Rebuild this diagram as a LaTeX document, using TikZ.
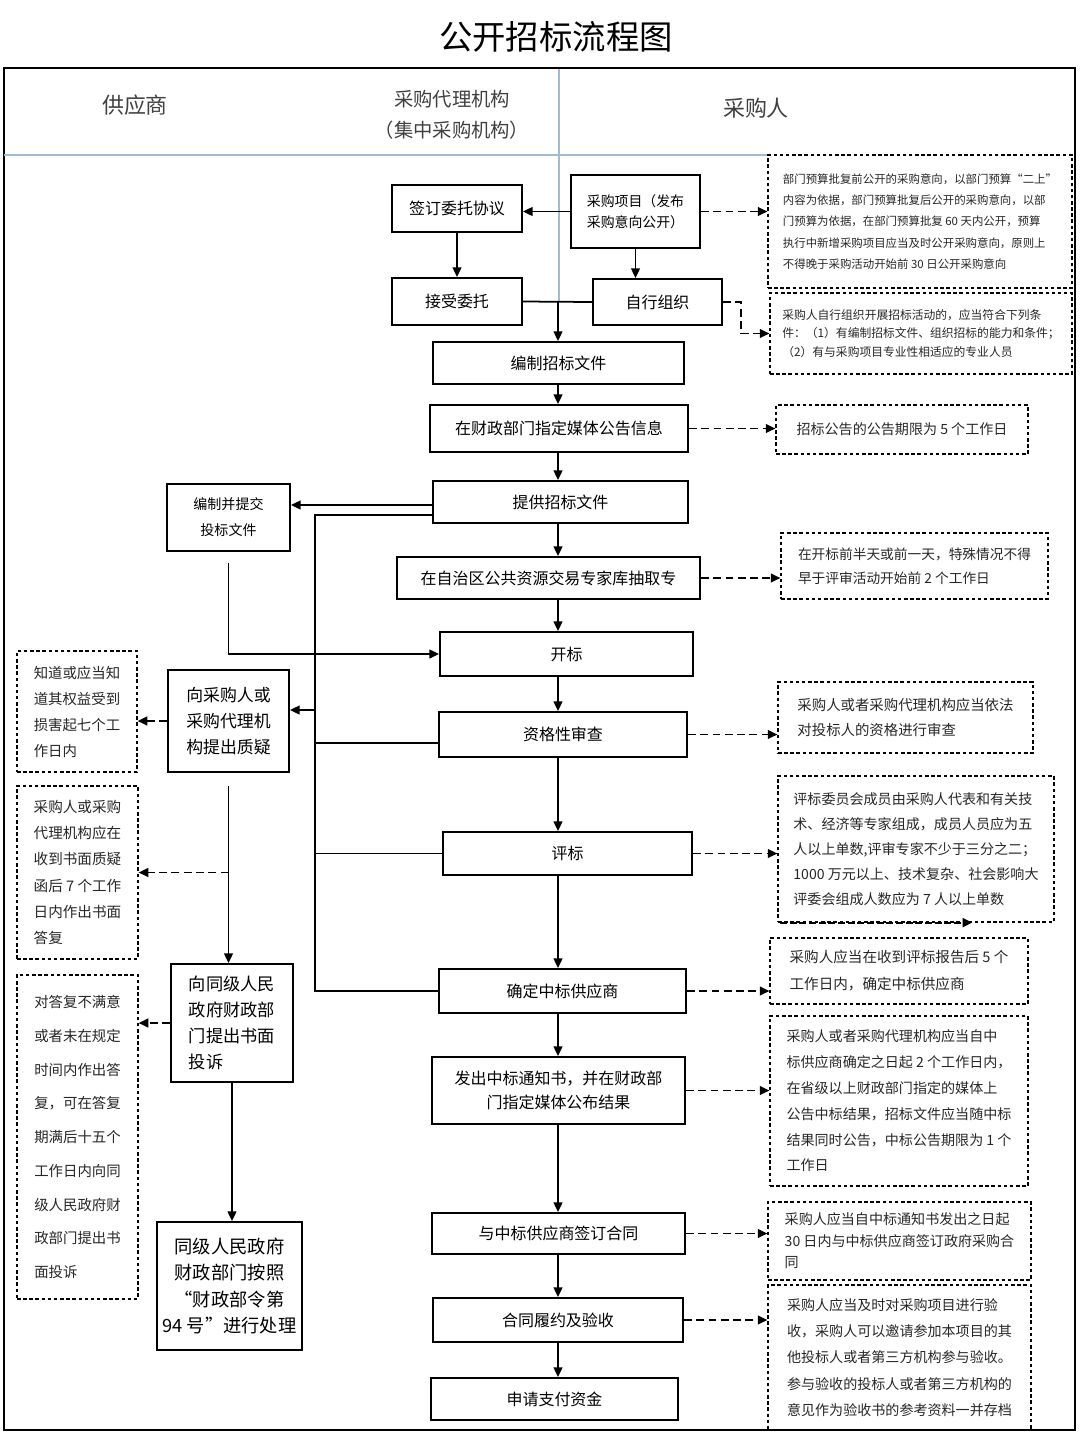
\documentclass[tikz,border=0pt]{standalone}
\usepackage{fontspec}
\setmainfont{Noto Sans CJK SC}
\usetikzlibrary{positioning,calc,arrows.meta}
\definecolor{lanecol}{RGB}{160,188,212}
\tikzset{
	box/.style={draw, line width=1.1pt, font=\fontsize{9.1}{14}\selectfont},
	note/.style={draw, line width=0.7pt, dash pattern=on 2pt off 1.5pt, align=left, text=black!85},
	arr/.style={line width=1pt, -{Triangle[length=5.5pt,width=5pt]}},
	darr/.style={arr, dash pattern=on 4.5pt off 2.5pt},
	hd/.style={text=black!75, font=\fontsize{12.5}{17.5}\selectfont},
	lane/.style={draw=lanecol, line width=0.8pt},
}

\begin{document}
\begin{tikzpicture}[x=0.02cm, y=-0.02cm]
	\useasboundingbox (0,0) rectangle (1080,1444);
	\begin{scope}
		\tikzstyle{every node}=[align=center, inner sep=1pt]
		% title, frame and lanes
		\node[font=\fontsize{19}{22}\selectfont] (title) at (556,37) {公开招标流程图};
		\draw[line width=1.6pt] (4,68) rectangle (1075,1430);
		\draw[lane] (4,155) -- (768,155);
		\draw[lane] (559,69) -- (559,301);
		\node[hd] (hsup) at (135,105) {供应商};
		\node[hd, font=\fontsize{11}{17.5}\selectfont] (hagent) at (452,115) {采购代理机构\\（集中采购机构）};
		\node[hd] (hbuyer) at (756,108) {采购人};

		% main column
		\node[box, minimum width=2.6cm, minimum height=0.94cm] (sign) at (457,208.5) {签订委托协议};
		\node[box, minimum width=2.58cm, minimum height=1.46cm, align=left, font=\fontsize{7.9}{12}\selectfont] (proj) at (635.5,211.5) {采购项目（发布\\采购意向公开）};
		\node[box, minimum width=2.6cm, minimum height=0.94cm] (accept) at (457,301.5) {接受委托};
		\node[box, minimum width=2.58cm, minimum height=0.92cm] (self) at (657.5,302) {自行组织};
		\node[box, minimum width=5.02cm, minimum height=0.84cm] (prep) at (558.5,363) {编制招标文件};
		\node[box, minimum width=5.16cm, minimum height=0.94cm] (pub) at (559,428.5) {在财政部门指定媒体公告信息};
		\node[box, minimum width=5.1cm, minimum height=0.84cm] (provide) at (560.5,502) {提供招标文件};
		\node[box, minimum width=6.06cm, minimum height=0.84cm] (expert) at (548.5,578) {在自治区公共资源交易专家库抽取专};
		\node[box, minimum width=5.06cm, minimum height=0.88cm] (open) at (566.5,654) {开标};
		\node[box, minimum width=4.96cm, minimum height=0.9cm] (qual) at (563,734.5) {资格性审查};
		\node[box, minimum width=4.98cm, minimum height=0.86cm] (eval) at (567.5,853.5) {评标};
		\node[box, minimum width=4.94cm, minimum height=0.88cm] (award) at (562.5,991) {确定中标供应商};
		\node[box, minimum width=5.06cm, minimum height=1.34cm] (notice) at (558.5,1090.5) {发出中标通知书，并在财政部\\门指定媒体公布结果};
		\node[box, minimum width=5.06cm, minimum height=0.82cm] (contract) at (558.5,1233.5) {与中标供应商签订合同};
		\node[box, minimum width=5cm, minimum height=0.88cm] (check) at (558,1320) {合同履约及验收};
		\node[box, minimum width=4.94cm, minimum height=0.84cm] (pay) at (554.5,1399) {申请支付资金};

		% supplier column
		\node[box, minimum width=2.46cm, minimum height=1.34cm, font=\fontsize{8}{14.7}\selectfont] (bid) at (228.5,517.5) {编制并提交\\投标文件};
		\node[box, minimum width=2.42cm, minimum height=2.04cm, font=\fontsize{9.6}{14.9}\selectfont] (query) at (228.5,721) {向采购人或\\采购代理机\\构提出质疑};
		\node[box, minimum width=2.44cm, minimum height=2.36cm, align=left, font=\fontsize{9.8}{14.9}\selectfont] (complain) at (232,1023) {向同级人民\\政府财政部\\门提出书面\\投诉};
		\node[box, minimum width=2.9cm, minimum height=2.56cm, font=\fontsize{10.4}{14.9}\selectfont] (handle) at (229.5,1286) {同级人民政府\\财政部门按照\\“财政部令第\\94 号”进行处理};

		% left notes
		\node[note, minimum width=2.4cm, minimum height=2.42cm, font=\fontsize{8.2}{14.8}\selectfont] (L1) at (77,711.5) {知道或应当知\\道其权益受到\\损害起七个工\\作日内};
		\node[note, minimum width=2.42cm, minimum height=3.46cm, font=\fontsize{8.3}{14.9}\selectfont] (L2) at (77.5,872.5) {采购人或采购\\代理机构应在\\收到书面质疑\\函后 7 个工作\\日内作出书面\\答复};
		\node[note, minimum width=2.42cm, minimum height=6.48cm, font=\fontsize{8.2}{19.2}\selectfont] (L3) at (77.5,1137) {对答复不满意\\或者未在规定\\时间内作出答\\复，可在答复\\期满后十五个\\工作日内向同\\级人民政府财\\政部门提出书\\面投诉};

		% right notes
		\node[note, minimum width=6.08cm, minimum height=2.66cm, font=\fontsize{6.5}{12.2}\selectfont] (n1) at (920,221.5) {部门预算批复前公开的采购意向，以部门预算“二上”\\内容为依据，部门预算批复后公开的采购意向，以部\\门预算为依据，在部门预算批复 60 天内公开，预算\\执行中新增采购项目应当及时公开采购意向，原则上\\不得晚于采购活动开始前 30 日公开采购意向};
		\node[note, minimum width=6.04cm, minimum height=1.62cm, font=\fontsize{6.7}{10.5}\selectfont] (n2) at (921,333.5) {采购人自行组织开展招标活动的，应当符合下列条\\件：（1）有编制招标文件、组织招标的能力和条件；\\（2）有与采购项目专业性相适应的专业人员};
		\node[note, minimum width=5.04cm, minimum height=0.98cm, font=\fontsize{8}{13}\selectfont] (n3) at (902,429.5) {招标公告的公告期限为 5 个工作日};
		\node[note, minimum width=5.34cm, minimum height=1.32cm, font=\fontsize{7.8}{13.6}\selectfont] (n4) at (914.5,566) {在开标前半天或前一天，特殊情况不得\\早于评审活动开始前 2 个工作日};
		\node[note, minimum width=5.1cm, minimum height=1.42cm, font=\fontsize{8.2}{14.2}\selectfont] (n5) at (905.5,717.5) {采购人或者采购代理机构应当依法\\对投标人的资格进行审查};
		\node[note, minimum width=5.52cm, minimum height=2.92cm, font=\fontsize{8}{14.3}\selectfont] (n6) at (916,849) {评标委员会成员由采购人代表和有关技\\术、经济等专家组成，成员人员应为五\\人以上单数,评审专家不少于三分之二；\\1000 万元以上、技术复杂、社会影响大\\评委会组成人数应为 7 人以上单数};
		\node[note, minimum width=5.16cm, minimum height=1.32cm, font=\fontsize{8.3}{15.3}\selectfont] (n7) at (899,971) {采购人应当在收到评标报告后 5 个\\工作日内，确定中标供应商};
		\node[note, minimum width=5.16cm, minimum height=3.4cm, font=\fontsize{8}{14.7}\selectfont] (n8) at (899,1101) {采购人或者采购代理机构应当自中\\标供应商确定之日起 2 个工作日内，\\在省级以上财政部门指定的媒体上\\公告中标结果，招标文件应当随中标\\结果同时公告，中标公告期限为 1 个\\工作日};
		\node[note, minimum width=5.26cm, minimum height=1.56cm, font=\fontsize{8}{12.2}\selectfont] (n9) at (899.5,1241) {采购人应当自中标通知书发出之日起\\30 日内与中标供应商签订政府采购合\\同};
		\node[note, minimum width=5.26cm, minimum height=2.9cm, font=\fontsize{8}{15}\selectfont] (n10) at (899.5,1357.5) {采购人应当及时对采购项目进行验\\收，采购人可以邀请参加本项目的其\\他投标人或者第三方机构参与验收。\\参与验收的投标人或者第三方机构的\\意见作为验收书的参考资料一并存档};

		% connectors, top part
		\coordinate (spine) at (558,0);
		\draw[arr] (proj.west) -- (proj.west -| sign.east);
		\draw[darr] (proj.east) -- (proj.east -| n1.west);
		\draw[arr] (sign) -- (accept);
		\draw[arr] (proj.south) -- (proj.south |- self.north);
		\draw[line width=1pt] (accept.east) -- (self.west);
		\draw[arr] (spine |- accept.east) -- (spine |- prep.north);
		\draw[darr] (self.east) -- ++(18,0) |- (n2.west);
		\draw[arr] (spine |- prep.south) -- (spine |- pub.north);
		\draw[darr] (pub.east) -- (pub.east -| n3.west);
		\draw[arr] (spine |- pub.south) -- (spine |- provide.north);

		% tender documents and the bus on the left
		\coordinate (pin) at ([yshift=-0.06cm]provide.west);
		\coordinate (bus) at (315,515);
		\draw[arr] (pin) -- (pin -| bid.east);
		\draw[line width=1pt] (provide.west |- bus) -- (bus) |- (award.west);
		\coordinate (qin) at ([yshift=0.22cm]query.east);
		\draw[arr] (bus |- qin) -- (qin);
		\coordinate (qln) at ([yshift=-0.17cm]qual.west);
		\draw[line width=1pt] (bus |- qln) -- (qln);
		\draw[line width=1pt] (bus |- eval.west) -- (eval.west);
		\draw[arr] ([yshift=-0.22cm]bid.south) |- (open.west);

		% main flow
		\draw[arr] (spine |- provide.south) -- (spine |- expert.north);
		\draw[darr] (expert.east) -- (expert.east -| n4.west);
		\draw[arr] (spine |- expert.south) -- (spine |- open.north);
		\draw[arr] (spine |- open.south) -- (spine |- qual.north);
		\draw[darr] (qual.east) -- (qual.east -| n5.west);
		\draw[arr] (spine |- qual.south) -- (spine |- eval.north);
		\draw[darr] (eval.east) -- (eval.east -| n6.west);
		\draw[arr, line width=1.2pt, dash pattern=on 4pt off 1.5pt] ([xshift=0.05cm]n6.south west) -- ([xshift=3.9cm]n6.south west);
		\draw[arr] (spine |- eval.south) -- (spine |- award.north);
		\draw[darr] (award.east) -- (award.east -| n7.west);
		\draw[arr] (spine |- award.south) -- (spine |- notice.north);
		\draw[darr] (notice.east) -- (notice.east -| n8.west);
		\draw[arr] (spine |- notice.south) -- (spine |- contract.north);
		\draw[darr] (contract.east) -- (contract.east -| n9.west);
		\draw[arr] (spine |- contract.south) -- (spine |- check.north);
		\draw[darr] (check.east) -- (check.east -| n10.west);
		\draw[arr] (spine |- check.south) -- (spine |- pay.north);

		% complaints
		\draw[darr] (query.west) -- (query.west -| L1.east);
		\draw[arr] ([yshift=-0.26cm]query.south) -- (query.south |- complain.north);
		\draw[darr] (query.south |- L2.east) -- (L2.east);
		\draw[darr] (complain.west) -- (complain.west -| L3.east);
		\draw[arr] (complain.south) -- (complain.south |- handle.north);
	\end{scope}
\end{tikzpicture}
\end{document}
